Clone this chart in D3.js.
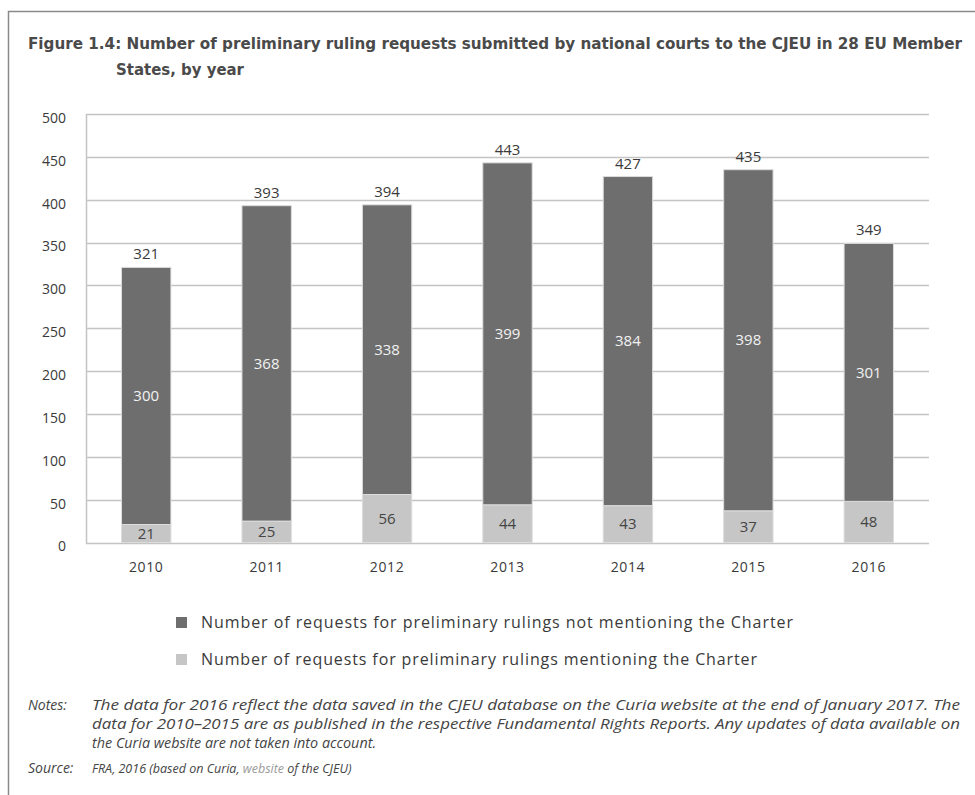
<!DOCTYPE html>
<html>
<head>
<meta charset="utf-8">
<script src="https://cdn.jsdelivr.net/npm/d3@7"></script>
<style>
  body { margin: 0; background: #fff; }
  svg { display: block; }
</style>
</head>
<body>
<svg id="chart" width="975" height="795"></svg>
<script>
// Preliminary ruling requests per year
const years = ["2010", "2011", "2012", "2013", "2014", "2015", "2016"];
const notMentioning = [300, 368, 338, 399, 384, 398, 301];
const mentioning = [21, 25, 56, 44, 43, 37, 48];
const totals = [321, 393, 394, 443, 427, 435, 349];
const yTicks = [0, 50, 100, 150, 200, 250, 300, 350, 400, 450, 500];
const seriesNames = [
  "Number of requests for preliminary rulings not mentioning the Charter",
  "Number of requests for preliminary rulings mentioning the Charter"
];

const colors = { dark: "#6e6e6e", light: "#c6c6c6", grid: "#c4c4c4", text: "#3a3a3a" };
const svg = d3.select("#chart");
const font = "'Open Sans', 'DejaVu Sans', sans-serif";

// outer frame (top and left rules)
svg.append("path")
  .attr("d", "M8.5,795 V11.5 H975")
  .attr("fill", "none").attr("stroke", "#8a8a8a").attr("stroke-width", 1.5);

// title
const title = svg.append("g").attr("font-family", "'DejaVu Sans Condensed', 'DejaVu Sans', sans-serif")
  .attr("font-weight", "bold").attr("fill", "#4a4a4a").attr("font-size", 15);
title.append("text").attr("x", 28).attr("y", 49)
  .attr("textLength", 934).attr("lengthAdjust", "spacingAndGlyphs")
  .text("Figure 1.4: Number of preliminary ruling requests submitted by national courts to the CJEU in 28 EU Member");
title.append("text").attr("x", 116).attr("y", 75)
  .attr("textLength", 128).attr("lengthAdjust", "spacingAndGlyphs")
  .text("States, by year");

// scales
const x = d3.scaleBand().domain(years).range([86, 929]).paddingInner(0.59).paddingOuter(0.295);
const y = d3.scaleLinear().domain([0, 500]).range([542.5, 114]);

// gridlines
svg.append("g").selectAll("line").data(yTicks).join("line")
  .attr("x1", 86).attr("x2", 929)
  .attr("y1", d => Math.round(y(d)) + 0.5).attr("y2", d => Math.round(y(d)) + 0.5)
  .attr("stroke", colors.grid).attr("stroke-width", 1.5);
svg.append("line").attr("x1", 86.5).attr("x2", 86.5).attr("y1", y(500)).attr("y2", y(0) + 1)
  .attr("stroke", colors.grid).attr("stroke-width", 1.5);

// y axis labels
const yAxis = d3.axisLeft(y).tickValues(yTicks).tickSize(0).tickPadding(20);
const gy = svg.append("g").attr("transform", "translate(86,0)").call(yAxis);
gy.select(".domain").remove();
gy.selectAll("text").attr("font-family", font).attr("font-size", 14).attr("fill", colors.text)
  .attr("dy", "0.6em");

// x axis labels
const xAxis = d3.axisBottom(x).tickSize(0).tickPadding(20);
const gx = svg.append("g").attr("transform", `translate(0,${y(0)})`).call(xAxis);
gx.select(".domain").remove();
gx.selectAll("text").attr("font-family", font).attr("font-size", 14).attr("fill", colors.text)
  .attr("letter-spacing", 0.6);

// stacked bars
const stackData = years.map((yr, i) => ({ year: yr, mentioning: mentioning[i], notMentioning: notMentioning[i] }));
const stack = d3.stack().keys(["mentioning", "notMentioning"])(stackData);
const fills = { mentioning: colors.light, notMentioning: colors.dark };

const layers = svg.append("g").selectAll("g").data(stack).join("g")
  .attr("fill", d => fills[d.key]);
layers.selectAll("rect").data(d => d).join("rect")
  .attr("x", d => x(d.data.year))
  .attr("width", x.bandwidth())
  .attr("y", d => y(d[1]))
  .attr("height", d => y(d[0]) - y(d[1]))
  .attr("stroke", "#dcdcdc").attr("stroke-width", 1);

// segment labels
layers.selectAll("text").data(d => d.map(v => Object.assign({ key: d.key }, v))).join("text")
  .attr("x", d => x(d.data.year) + x.bandwidth() / 2)
  .attr("y", d => y((d[0] + d[1]) / 2))
  .attr("dy", "0.35em")
  .attr("text-anchor", "middle")
  .attr("font-family", font).attr("font-size", 15)
  .attr("fill", d => d.key === "notMentioning" ? "#f2f2f2" : "#444")
  .text(d => d[1] - d[0]);

// totals above bars
svg.append("g").selectAll("text").data(years).join("text")
  .attr("x", d => x(d) + x.bandwidth() / 2)
  .attr("y", (d, i) => y(totals[i]) - 8)
  .attr("text-anchor", "middle")
  .attr("font-family", font).attr("font-size", 15).attr("fill", colors.text)
  .text((d, i) => totals[i]);

// legend
const legendWidths = [592, 556];
const legend = svg.append("g").selectAll("g").data(seriesNames).join("g")
  .attr("transform", (d, i) => `translate(176,${617 + i * 37})`);
legend.append("rect").attr("width", 11).attr("height", 11)
  .attr("fill", (d, i) => i === 0 ? colors.dark : colors.light);
legend.append("text").attr("x", 25).attr("y", 11)
  .attr("font-family", font).attr("font-size", 16).attr("fill", colors.text)
  .attr("textLength", (d, i) => legendWidths[i]).attr("lengthAdjust", "spacing")
  .text(d => d);

// notes and source
const notes = svg.append("g").attr("font-family", font).attr("font-style", "italic")
  .attr("font-size", 14).attr("fill", "#444");
notes.append("text").attr("x", 28).attr("y", 710).text("Notes:");
const noteLines = [
  "The data for 2016 reflect the data saved in the CJEU database on the Curia website at the end of January 2017. The",
  "data for 2010–2015 are as published in the respective Fundamental Rights Reports. Any updates of data available on",
  "the Curia website are not taken into account."
];
const noteWidths = [868, 868, 284];
notes.selectAll(".note").data(noteLines).join("text").attr("class", "note")
  .attr("x", 92).attr("y", (d, i) => 710 + i * 19)
  .attr("textLength", (d, i) => noteWidths[i])
  .attr("lengthAdjust", "spacingAndGlyphs")
  .text(d => d);
notes.append("text").attr("x", 28).attr("y", 773).text("Source:");
const src = notes.append("text").attr("x", 92).attr("y", 773).attr("font-size", 12.5);
src.append("tspan").text("FRA, 2016 (based on Curia, ");
src.append("tspan").attr("fill", "#9a9a9a").text("website");
src.append("tspan").text(" of the CJEU)");
</script>
</body>
</html>
